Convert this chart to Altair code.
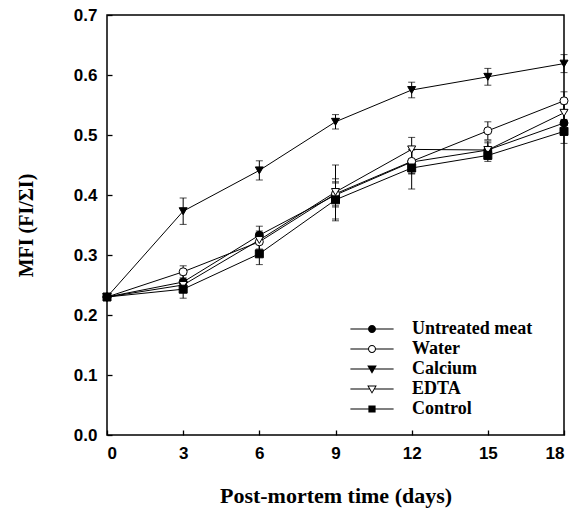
import altair as alt
import pandas as pd

days = [0, 3, 6, 9, 12, 15, 18]
series_names = ["Untreated meat", "Water", "Calcium", "EDTA", "Control"]
untreated = [0.230, 0.255, 0.333, 0.400, 0.455, 0.475, 0.520]
water = [0.230, 0.272, 0.322, 0.402, 0.456, 0.507, 0.557]
calcium = [0.230, 0.373, 0.441, 0.522, 0.575, 0.597, 0.619]
edta = [0.230, 0.250, 0.325, 0.405, 0.476, 0.475, 0.537]
control = [0.230, 0.243, 0.302, 0.392, 0.445, 0.466, 0.506]

err_untreated = [0.0, 0.012, 0.015, 0.020, 0.020, 0.012, 0.020]
err_water = [0.0, 0.010, 0.015, 0.020, 0.020, 0.015, 0.015]
err_calcium = [0.0, 0.022, 0.016, 0.012, 0.013, 0.014, 0.015]
err_edta = [0.0, 0.010, 0.015, 0.045, 0.020, 0.015, 0.015]
err_control = [0.0, 0.015, 0.018, 0.035, 0.035, 0.010, 0.020]

values = [untreated, water, calcium, edta, control]
errors = [err_untreated, err_water, err_calcium, err_edta, err_control]

rows = []
for name, vals, errs in zip(series_names, values, errors):
    for d, v, e in zip(days, vals, errs):
        rows.append({"day": d, "mfi": v, "lo": v - e, "hi": v + e, "series": name})
df = pd.DataFrame(rows)

point_shapes = ["circle", "circle", "triangle-down", "triangle-down", "square"]
fills = ["black", "white", "black", "white", "black"]

# legend glyphs: line segment + marker, all drawn as filled paths
_circ_lines = "M-2.7,-0.07H-0.48V0.07H-2.7Z M0.48,-0.07H2.7V0.07H0.48Z "
_tri_lines = "M-2.7,-0.07H-0.33V0.07H-2.7Z M0.33,-0.07H2.7V0.07H0.33Z "
_sq_lines = "M-2.7,-0.07H-0.44V0.07H-2.7Z M0.44,-0.07H2.7V0.07H0.44Z "
legend_shapes = [
    _circ_lines + "M-0.5,0A0.5,0.5 0 1,1 0.5,0A0.5,0.5 0 1,1 -0.5,0Z",
    _circ_lines + "M-0.5,0A0.5,0.5 0 1,1 0.5,0A0.5,0.5 0 1,1 -0.5,0Z "
                  "M-0.37,0A0.37,0.37 0 1,0 0.37,0A0.37,0.37 0 1,0 -0.37,0Z",
    _tri_lines + "M-0.6,-0.45L0.6,-0.45L0,0.6Z",
    _tri_lines + "M-0.6,-0.45L0.6,-0.45L0,0.6Z M-0.39,-0.32L0,0.37L0.39,-0.32Z",
    _sq_lines + "M-0.45,-0.45H0.45V0.45H-0.45Z",
]

x_enc = alt.X("day:Q", scale=alt.Scale(domain=[0, 18], nice=False, zero=False),
              axis=alt.Axis(values=days, title="Post-mortem time (days)", grid=False,
                            domain=False, ticks=True, tickSize=5, offset=-5,
                            tickColor="black", tickWidth=1.3, labelPadding=10,
                            labelFont="Liberation Sans", labelFontWeight="bold",
                            labelFontSize=17, labelColor="black",
                            titleFont="Liberation Serif", titleFontWeight="bold",
                            titleFontSize=22, titleColor="black", titlePadding=24))
y_enc = alt.Y("mfi:Q", scale=alt.Scale(domain=[0, 0.7], nice=False),
              axis=alt.Axis(values=[0, 0.1, 0.2, 0.3, 0.4, 0.5, 0.6, 0.7], format=".1f",
                            title="MFI (FI/ΣI)", grid=False, domain=False,
                            ticks=True, tickSize=5, offset=-5, tickColor="black",
                            tickWidth=1.3, labelPadding=10, labelFont="Liberation Sans",
                            labelFontWeight="bold", labelFontSize=17, labelColor="black",
                            titleFont="Liberation Serif", titleFontWeight="bold",
                            titleFontSize=20, titleColor="black", titlePadding=37))

base = alt.Chart(df)

lines = base.mark_line(color="black", strokeWidth=1).encode(
    x=x_enc, y=y_enc, detail="series:N")

bars = base.mark_errorbar(ticks=alt.MarkConfig(size=7, color="black"), color="black",
                          thickness=1).encode(
    x="day:Q", y=alt.Y("lo:Q", title="MFI (FI/ΣI)"), y2="hi:Q", detail="series:N")

points = base.mark_point(filled=False, stroke="black", strokeWidth=1, size=64, opacity=1).encode(
    x="day:Q", y="mfi:Q",
    shape=alt.Shape("series:N", scale=alt.Scale(domain=series_names, range=point_shapes), legend=None),
    fill=alt.Fill("series:N", scale=alt.Scale(domain=series_names, range=fills), legend=None),
)

legend_layer = base.transform_filter("datum.day < 0").mark_point(
    filled=True, color="black", opacity=1).encode(
    x="day:Q", y="mfi:Q",
    shape=alt.Shape("series:N", scale=alt.Scale(domain=series_names, range=legend_shapes),
                    legend=alt.Legend(
                        title=None, orient="none", legendX=256, legendY=305, padding=0,
                        symbolSize=256, symbolOpacity=1, symbolFillColor="black",
                        symbolStrokeWidth=0,
                        labelFont="Liberation Serif", labelFontWeight="bold",
                        labelFontSize=18, labelColor="black", rowPadding=2,
                        labelOffset=31)),
)

chart = alt.layer(lines, bars, points, legend_layer).resolve_scale(
    shape="independent", fill="independent"
).properties(
    width=457, height=420,
    autosize=alt.AutoSizeParams(type="none"),
    padding={"left": 107, "top": 15, "right": 21, "bottom": 82},
    background="white",
).configure_view(stroke="black", strokeWidth=1.5)

chart.save("out.html", embed_options={"renderer": "svg", "actions": False})
